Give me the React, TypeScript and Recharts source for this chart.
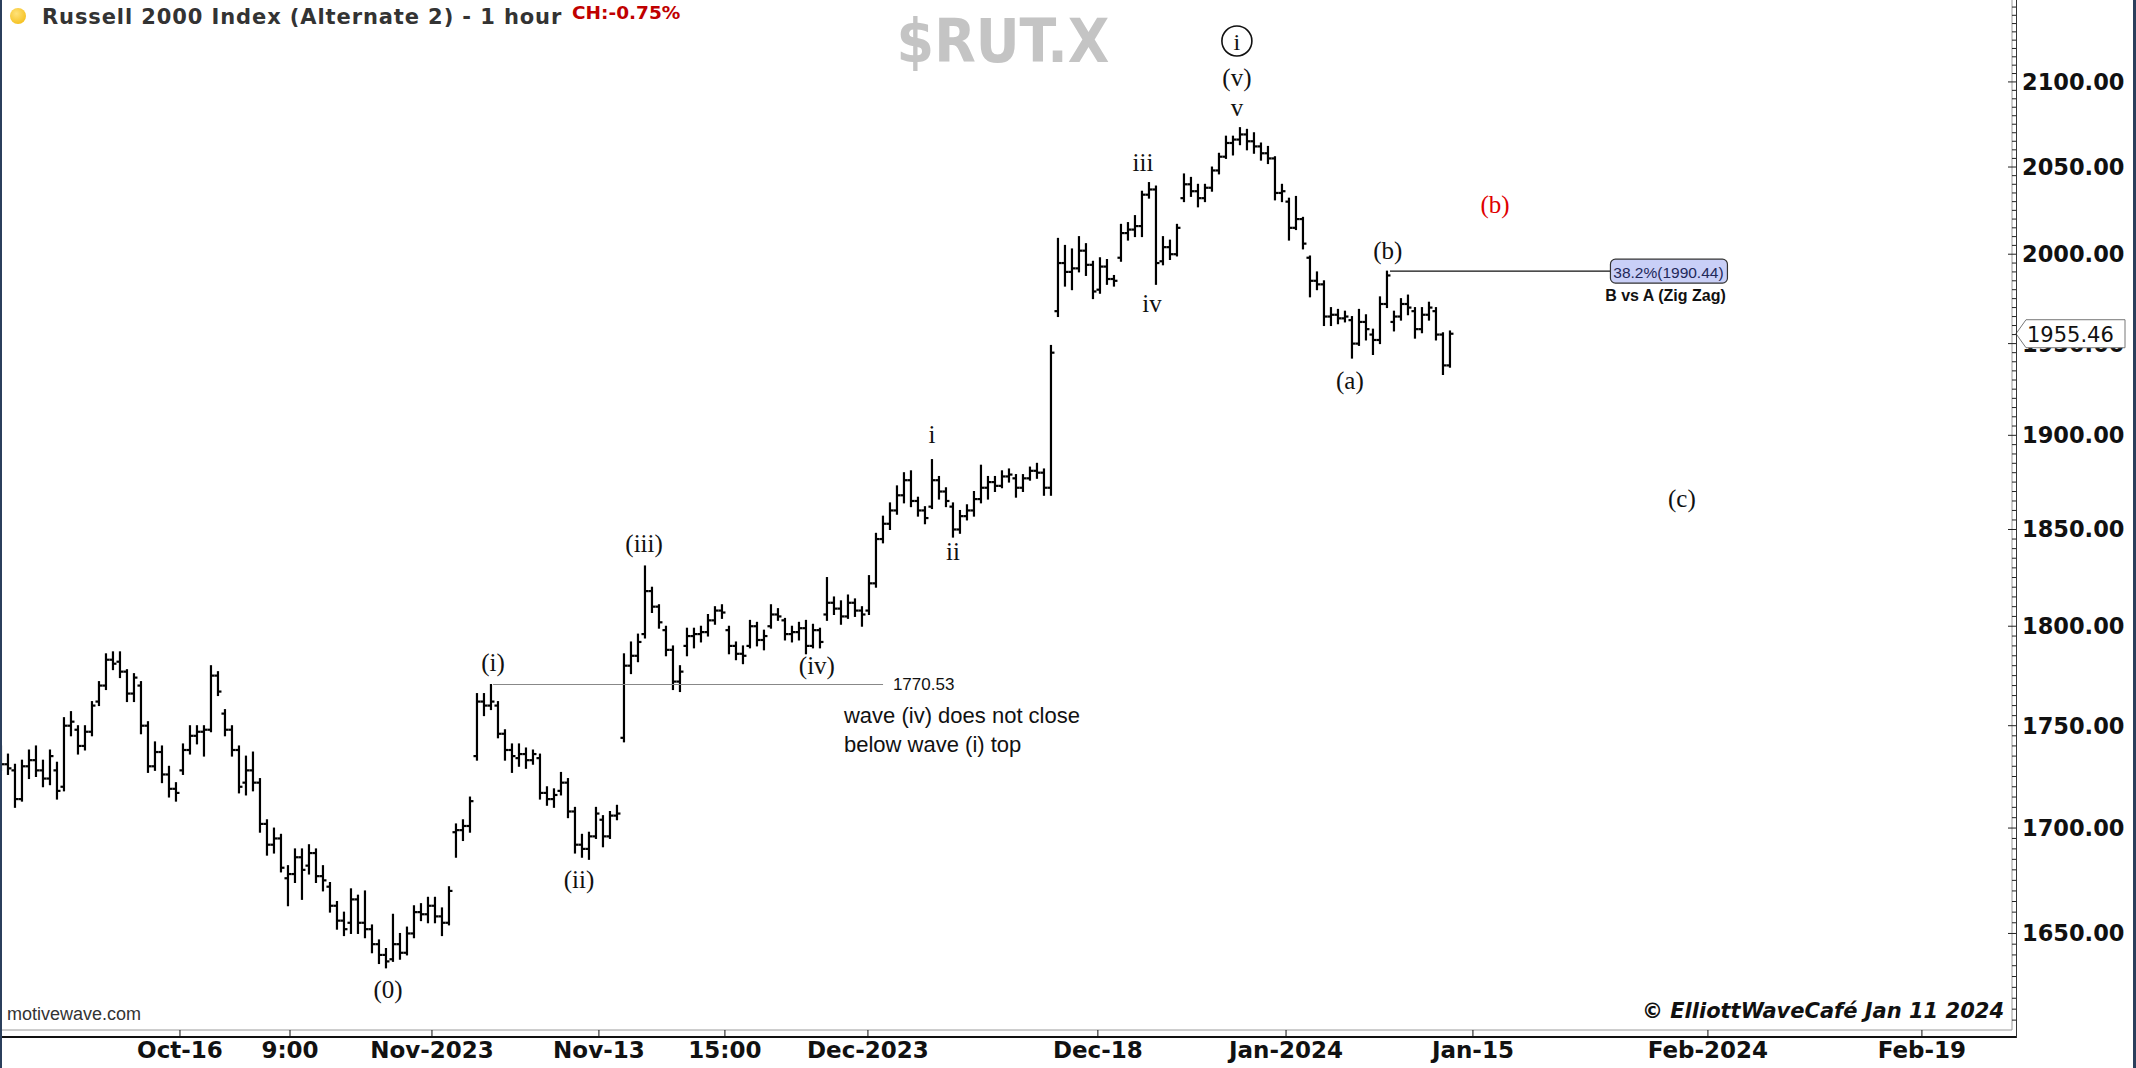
import {
  Bar,
  ComposedChart,
  ReferenceDot,
  ReferenceLine,
  XAxis,
  YAxis,
} from 'recharts'

const CHART_WIDTH = 2136
const CHART_HEIGHT = 1068
const PLOT_RIGHT = 2012

// hourly sessions squeezed to 3 bars a day: [open, high, low, close]
const bars: [number, number, number, number][] = [
  // Oct 3 (partial)
  [1737, 1740, 1728, 1731], [1731, 1736, 1726, 1729],
  // Oct 4 - Oct 13
  [1728, 1731, 1710, 1714], [1714, 1733, 1713, 1730], [1730, 1738, 1724, 1733],
  [1733, 1740, 1725, 1728], [1728, 1733, 1720, 1724], [1724, 1738, 1721, 1735],
  [1728, 1732, 1714, 1718], [1720, 1754, 1718, 1750], [1750, 1757, 1745, 1752],
  [1748, 1750, 1736, 1740], [1740, 1750, 1738, 1747], [1747, 1762, 1745, 1760],
  [1762, 1772, 1760, 1770], [1770, 1786, 1768, 1783], [1783, 1787, 1778, 1781],
  [1782, 1787, 1774, 1777], [1777, 1778, 1762, 1766], [1766, 1776, 1762, 1774],
  [1770, 1772, 1746, 1750], [1750, 1752, 1727, 1730], [1730, 1742, 1728, 1737],
  [1737, 1740, 1722, 1726], [1726, 1730, 1715, 1719], [1719, 1722, 1713, 1717],
  // Oct 16 - Oct 20
  [1728, 1741, 1726, 1738], [1738, 1750, 1736, 1745], [1745, 1750, 1741, 1747],
  [1747, 1750, 1735, 1748], [1748, 1780, 1747, 1775], [1775, 1777, 1765, 1767],
  [1756, 1758, 1745, 1748], [1748, 1750, 1735, 1738], [1738, 1740, 1717, 1720],
  [1722, 1735, 1716, 1728], [1728, 1737, 1718, 1722], [1722, 1724, 1698, 1702],
  [1702, 1704, 1687, 1692], [1692, 1700, 1688, 1695], [1695, 1697, 1679, 1681],
  // Oct 23 - Oct 27
  [1676, 1682, 1663, 1678], [1678, 1690, 1674, 1686], [1686, 1690, 1666, 1680],
  [1682, 1692, 1678, 1688], [1688, 1690, 1674, 1677], [1677, 1682, 1670, 1675],
  [1672, 1674, 1660, 1663], [1663, 1665, 1652, 1656], [1656, 1660, 1649, 1652],
  [1655, 1671, 1650, 1666], [1666, 1668, 1650, 1655], [1655, 1670, 1648, 1652],
  [1652, 1654, 1641, 1645], [1645, 1647, 1636, 1640], [1640, 1643, 1634, 1637],
  // Oct 30 - Nov 3
  [1638, 1659, 1637, 1645], [1645, 1650, 1638, 1641], [1641, 1653, 1640, 1650],
  [1650, 1663, 1648, 1660], [1660, 1664, 1656, 1659], [1659, 1667, 1655, 1663],
  [1663, 1667, 1655, 1658], [1658, 1662, 1649, 1655], [1655, 1672, 1654, 1670],
  [1698, 1702, 1686, 1699], [1699, 1704, 1694, 1701], [1701, 1715, 1698, 1713],
  [1735, 1766, 1733, 1762], [1762, 1766, 1755, 1760], [1760, 1770.53, 1758, 1762],
  // Nov 6 - Nov 10
  [1760, 1762, 1744, 1746], [1746, 1748, 1733, 1738], [1738, 1741, 1727, 1735],
  [1734, 1741, 1730, 1736], [1736, 1739, 1729, 1733], [1733, 1738, 1731, 1736],
  [1734, 1736, 1714, 1717], [1717, 1720, 1711, 1714], [1714, 1719, 1710, 1716],
  [1718, 1727, 1716, 1722], [1722, 1724, 1705, 1708], [1708, 1710, 1688, 1692],
  [1692, 1697, 1686, 1690], [1690, 1698, 1685, 1696], [1696, 1710, 1695, 1707],
  // Nov 13 - Nov 17
  [1704, 1706, 1691, 1696], [1696, 1708, 1695, 1706], [1706, 1711, 1704, 1707],
  [1744, 1786, 1742, 1780], [1780, 1792, 1776, 1785], [1785, 1796, 1782, 1792],
  [1796, 1831, 1794, 1818], [1818, 1820, 1807, 1810], [1810, 1811, 1799, 1802],
  [1798, 1800, 1785, 1788], [1788, 1790, 1768, 1772], [1772, 1780, 1767, 1777],
  [1790, 1799, 1785, 1795], [1795, 1799, 1789, 1796], [1796, 1800, 1792, 1797],
  // Nov 20 - Nov 24 (half day)
  [1797, 1806, 1795, 1803], [1803, 1810, 1801, 1808], [1808, 1811, 1804, 1807],
  [1798, 1800, 1786, 1790], [1790, 1792, 1783, 1786], [1786, 1790, 1781, 1785],
  [1790, 1803, 1789, 1800], [1800, 1802, 1790, 1793], [1793, 1798, 1788, 1795],
  [1800, 1811, 1799, 1806], [1806, 1809, 1803, 1805],
  // Nov 27 - Dec 1
  [1803, 1804, 1793, 1796], [1796, 1800, 1792, 1797], [1797, 1802, 1793, 1799],
  [1799, 1803, 1786, 1790], [1790, 1801, 1789, 1798], [1798, 1799, 1789, 1792],
  [1806, 1825, 1803, 1812], [1812, 1815, 1806, 1809], [1809, 1813, 1801, 1805],
  [1805, 1816, 1804, 1812], [1812, 1814, 1805, 1808], [1808, 1810, 1800, 1806],
  [1808, 1826, 1806, 1822], [1822, 1848, 1820, 1845], [1845, 1857, 1843, 1853],
  // Dec 4 - Dec 8
  [1853, 1864, 1850, 1860], [1860, 1873, 1858, 1868], [1868, 1880, 1864, 1876],
  [1876, 1881, 1862, 1865], [1865, 1867, 1857, 1860], [1860, 1862, 1853, 1856],
  [1862, 1887, 1861, 1876], [1876, 1878, 1866, 1870], [1870, 1872, 1862, 1865],
  [1862, 1864, 1846, 1850], [1850, 1860, 1848, 1857], [1857, 1863, 1855, 1860],
  [1860, 1870, 1857, 1866], [1866, 1884, 1864, 1872], [1872, 1878, 1866, 1875],
  // Dec 11 - Dec 15
  [1875, 1878, 1870, 1873], [1873, 1881, 1872, 1878], [1878, 1882, 1875, 1879],
  [1877, 1879, 1867, 1872], [1872, 1879, 1870, 1877], [1877, 1883, 1876, 1881],
  [1881, 1885, 1877, 1880], [1880, 1882, 1868, 1872], [1872, 1949, 1868, 1945],
  [1968, 2009, 1965, 1995], [1995, 2005, 1982, 1990], [1990, 2003, 1980, 1992],
  [1992, 2010, 1990, 2002], [2002, 2006, 1988, 1994], [1994, 1996, 1975, 1979],
  // Dec 18 - Dec 22
  [1980, 1998, 1978, 1993], [1993, 1997, 1983, 1986], [1986, 1988, 1982, 1985],
  [1998, 2017, 1996, 2012], [2012, 2018, 2008, 2014], [2014, 2022, 2010, 2016],
  [2016, 2036, 2010, 2034], [2034, 2041, 2032, 2037], [2037, 2039, 1983, 1995],
  [1996, 2010, 1994, 2004], [2004, 2008, 1997, 2000], [2000, 2017, 1999, 2015],
  [2032, 2046, 2030, 2040], [2040, 2044, 2033, 2036], [2036, 2040, 2027, 2032],
  // Dec 26 - Dec 29
  [2032, 2040, 2030, 2038], [2038, 2050, 2036, 2048], [2048, 2058, 2046, 2056],
  [2056, 2068, 2055, 2064], [2064, 2068, 2057, 2066], [2066, 2073, 2063, 2069],
  [2069, 2072, 2060, 2065], [2065, 2070, 2058, 2062], [2062, 2064, 2054, 2058],
  [2058, 2062, 2052, 2055], [2055, 2056, 2031, 2035], [2035, 2040, 2030, 2036],
  // Jan 2 - Jan 5
  [2030, 2032, 2008, 2015], [2015, 2033, 2014, 2020], [2020, 2021, 2003, 2006],
  [1998, 1999, 1976, 1985], [1985, 1990, 1980, 1983], [1983, 1985, 1960, 1965],
  [1965, 1970, 1960, 1966], [1966, 1969, 1961, 1964], [1964, 1968, 1962, 1965],
  [1963, 1965, 1942, 1950], [1950, 1969, 1949, 1962], [1962, 1966, 1952, 1958],
  // Jan 8 - Jan 11
  [1955, 1958, 1944, 1952], [1952, 1976, 1950, 1972], [1972, 1990.44, 1970, 1988],
  [1962, 1968, 1957, 1965], [1965, 1975, 1963, 1972], [1972, 1977, 1966, 1970],
  [1968, 1970, 1953, 1958], [1958, 1970, 1956, 1966], [1966, 1973, 1963, 1970],
  [1968, 1970, 1952, 1955], [1955, 1956, 1933, 1938], [1938, 1957, 1937, 1955.46],
]

const firstBarDay = 0.5
const barsPerDay = 3
const dayDomain: [number, number] = [0.43, 96.24]
const priceDomain: [number, number] = [1605.5, 2149.3]

const timeTicks = [9.0, 14.24, 21.0, 28.95, 34.95, 41.76, 52.71, 61.67, 70.57, 81.76, 91.95]
const timeLabels = [
  'Oct-16', '9:00', 'Nov-2023', 'Nov-13', '15:00', 'Dec-2023',
  'Dec-18', 'Jan-2024', 'Jan-15', 'Feb-2024', 'Feb-19',
]

const lastPrice = 1955.46
const waveOneTop = 1770.53
const retracePrice = 1990.44

const waveLabels = [
  { text: '(0)', day: 18.91, price: 1624.2 },
  { text: '(i)', day: 23.91, price: 1781.4 },
  { text: '(ii)', day: 28.0, price: 1675.6 },
  { text: '(iii)', day: 31.1, price: 1842.5 },
  { text: '(iv)', day: 39.33, price: 1779.9 },
  { text: 'i', day: 44.81, price: 1900.2 },
  { text: 'ii', day: 45.81, price: 1838.3 },
  { text: 'iii', day: 54.86, price: 2052.4 },
  { text: 'iv', day: 55.29, price: 1972.0 },
  { text: 'v', day: 59.33, price: 2084.6 },
  { text: '(v)', day: 59.33, price: 2102.4 },
  { text: '(a)', day: 64.71, price: 1930.0 },
  { text: '(b)', day: 66.52, price: 2001.9 },
  { text: '(b)', day: 71.62, price: 2028.1, color: '#e00000' },
  { text: '(c)', day: 80.52, price: 1866.1 },
]

const priceTicks: number[] = []
for (let p = 1610; p <= 2145; p += 5) priceTicks.push(p)
// the last-price tag is drawn last so it sits over the 1950 label
const axisTicks = [...priceTicks, lastPrice]

const chartData = bars.map(([open, high, low, close], i) => ({
  day: firstBarDay + i / barsPerDay,
  open,
  high,
  low,
  close,
  range: [low, high],
}))

const serif = "'Liberation Serif', 'Times New Roman', serif"
const axisFont = "'DejaVu Sans', Verdana, sans-serif"
const arial = "'Liberation Sans', Arial, sans-serif"

function OhlcBar(props: any) {
  const { x, y, width, height, payload } = props
  if (x == null || !payload) return null
  const top = Math.min(y, y + height)
  const h = Math.abs(height)
  const span = Math.log(payload.high / payload.low) || 1
  const yOf = (v: number) => top + (h * Math.log(payload.high / v)) / span
  const cx = x + width / 2
  return (
    <g stroke="#000" strokeWidth={2.2}>
      <line x1={cx} x2={cx} y1={top - 0.5} y2={top + h + 0.5} />
      <line x1={cx - 3.5} x2={cx} y1={yOf(payload.open)} y2={yOf(payload.open)} />
      <line x1={cx} x2={cx + 3.5} y1={yOf(payload.close)} y2={yOf(payload.close)} />
    </g>
  )
}

function PriceTick({ x, y, payload }: any) {
  const v = payload.value as number
  if (v === lastPrice) {
    return (
      <g>
        <polygon
          points={`${x + 4},${y} ${x + 14},${y - 14} ${x + 113},${y - 14} ${x + 113},${y + 14} ${x + 14},${y + 14}`}
          fill="#fff"
          stroke="#777"
          strokeWidth={1}
        />
        <text x={x + 15} y={y + 1} dominantBaseline="central" fontFamily={axisFont} fontSize={21} fill="#111">
          {lastPrice.toFixed(2)}
        </text>
      </g>
    )
  }
  const major = v % 50 === 0
  return (
    <g>
      <line x1={major ? x - 4 : x} x2={x + 4} y1={y} y2={y} stroke="#222" strokeWidth={1} />
      {major && (
        <text
          x={x + 10}
          y={y}
          dominantBaseline="central"
          fontFamily={axisFont}
          fontWeight="bold"
          fontSize={22.5}
          fill="#111"
        >
          {v.toFixed(2)}
        </text>
      )}
    </g>
  )
}

function TimeTick({ x, y, payload }: any) {
  const idx = timeTicks.indexOf(payload.value)
  return (
    <text
      x={x}
      y={y}
      dy={19}
      textAnchor="middle"
      fontFamily={axisFont}
      fontWeight="bold"
      fontSize={23}
      fill="#111"
    >
      {timeLabels[idx] ?? ''}
    </text>
  )
}

export default function App() {
  return (
    <div
      style={{
        position: 'fixed',
        left: 0,
        top: 0,
        width: CHART_WIDTH,
        height: CHART_HEIGHT,
        background: '#fff',
        overflow: 'hidden',
      }}
    >
      <ComposedChart
        width={CHART_WIDTH}
        height={CHART_HEIGHT}
        data={chartData}
        margin={{ top: 0, right: 0, bottom: 0, left: 0 }}
      >
        <XAxis
          dataKey="day"
          type="number"
          domain={dayDomain}
          allowDataOverflow
          ticks={timeTicks}
          interval={0}
          height={38}
          axisLine={{ stroke: '#9a9a9a' }}
          tickLine={{ stroke: '#111' }}
          tickSize={7}
          tick={<TimeTick />}
        />
        <YAxis
          orientation="right"
          type="number"
          scale="log"
          domain={priceDomain}
          allowDataOverflow
          ticks={axisTicks}
          interval={0}
          width={124}
          axisLine={{ stroke: '#9a9a9a' }}
          tickLine={false}
          tickSize={0}
          tickMargin={0}
          tick={<PriceTick />}
        />
        <Bar dataKey="range" barSize={6} shape={<OhlcBar />} isAnimationActive={false} />

        <ReferenceLine
          segment={[
            { x: 23.91, y: waveOneTop },
            { x: 42.48, y: waveOneTop },
          ]}
          stroke="#888"
          strokeWidth={1.2}
          ifOverflow="visible"
        />
        <ReferenceLine
          segment={[
            { x: 66.62, y: retracePrice },
            { x: 77.1, y: retracePrice },
          ]}
          stroke="#111"
          strokeWidth={1.2}
          ifOverflow="visible"
        />

        <ReferenceDot
          x={42.95}
          y={waveOneTop}
          r={0}
          ifOverflow="visible"
          shape={(p: any) => (
            <text x={p.cx} y={p.cy} dominantBaseline="central" fontFamily={arial} fontSize={17} fill="#111">
              {waveOneTop.toFixed(2)}
            </text>
          )}
        />
        <ReferenceDot
          x={40.62}
          y={1755.3}
          r={0}
          ifOverflow="visible"
          shape={(p: any) => (
            <text x={p.cx} y={p.cy} dominantBaseline="central" fontFamily={arial} fontSize={22} fill="#111">
              <tspan x={p.cx}>wave (iv) does not close</tspan>
              <tspan x={p.cx} dy={29}>
                below wave (i) top
              </tspan>
            </text>
          )}
        />
        <ReferenceDot
          x={79.88}
          y={retracePrice}
          r={0}
          ifOverflow="visible"
          shape={(p: any) => (
            <g>
              <rect
                x={p.cx - 58}
                y={p.cy - 12}
                width={117}
                height={24}
                rx={5}
                fill="#c9cff7"
                stroke="#333"
                strokeWidth={1.2}
              />
              <text
                x={p.cx}
                y={p.cy + 1}
                textAnchor="middle"
                dominantBaseline="central"
                fontFamily={arial}
                fontSize={15.5}
                fill="#22285a"
              >
                38.2%({retracePrice.toFixed(2)})
              </text>
              <text
                x={p.cx - 3}
                y={p.cy + 24}
                textAnchor="middle"
                dominantBaseline="central"
                fontFamily={arial}
                fontWeight="bold"
                fontSize={16}
                fill="#111"
              >
                B vs A (Zig Zag)
              </text>
            </g>
          )}
        />

        {waveLabels.map((w) => (
          <ReferenceDot
            key={w.text + w.day}
            x={w.day}
            y={w.price}
            r={0}
            ifOverflow="visible"
            shape={(p: any) => (
              <text
                x={p.cx}
                y={p.cy}
                textAnchor="middle"
                dominantBaseline="central"
                fontFamily={serif}
                fontSize={25}
                fill={w.color ?? '#111'}
              >
                {w.text}
              </text>
            )}
          />
        ))}
        <ReferenceDot
          x={59.33}
          y={2124.5}
          r={0}
          ifOverflow="visible"
          shape={(p: any) => (
            <g>
              <circle cx={p.cx} cy={p.cy} r={15} fill="none" stroke="#111" strokeWidth={1.6} />
              <text
                x={p.cx}
                y={p.cy + 1}
                textAnchor="middle"
                dominantBaseline="central"
                fontFamily={serif}
                fontSize={24}
                fill="#111"
              >
                i
              </text>
            </g>
          )}
        />
      </ComposedChart>

      {/* header */}
      <div
        style={{
          position: 'absolute',
          left: 10,
          top: 8,
          width: 16,
          height: 16,
          borderRadius: '50%',
          background: 'radial-gradient(circle at 40% 35%, #ffe27a, #f2b705)',
        }}
      />
      <div
        style={{
          position: 'absolute',
          left: 42,
          top: 5,
          fontFamily: "'DejaVu Sans', Verdana, sans-serif",
          fontWeight: 'bold',
          fontSize: 21,
          letterSpacing: 0.9,
          color: '#333',
          whiteSpace: 'nowrap',
        }}
      >
        Russell 2000 Index (Alternate 2) - 1 hour
      </div>
      <div
        style={{
          position: 'absolute',
          left: 572,
          top: 2,
          fontFamily: "'DejaVu Sans', Verdana, sans-serif",
          fontWeight: 'bold',
          fontSize: 18.5,
          color: '#c00000',
          whiteSpace: 'nowrap',
        }}
      >
        CH:-0.75%
      </div>
      <div
        style={{
          position: 'absolute',
          left: 1003,
          top: 41,
          transform: 'translate(-50%, -50%)',
          fontFamily: "'DejaVu Sans Condensed', 'DejaVu Sans', sans-serif",
          fontWeight: 'bold',
          fontSize: 60,
          color: '#c4c4c4',
          whiteSpace: 'nowrap',
        }}
      >
        $RUT.X
      </div>

      {/* footer marks */}
      <div
        style={{
          position: 'absolute',
          left: 7,
          top: 1004,
          fontFamily: arial,
          fontSize: 18,
          color: '#333',
        }}
      >
        motivewave.com
      </div>
      <div
        style={{
          position: 'absolute',
          right: 2136 - 2004,
          top: 999,
          fontFamily: "'DejaVu Sans', sans-serif",
          fontStyle: 'italic',
          fontWeight: 'bold',
          fontSize: 21,
          color: '#111',
          whiteSpace: 'nowrap',
        }}
      >
        © ElliottWaveCafé Jan 11 2024
      </div>

      {/* frame lines */}
      <div style={{ position: 'absolute', left: 0, top: 1036, width: PLOT_RIGHT + 4, height: 2, background: '#111' }} />
      <div style={{ position: 'absolute', left: PLOT_RIGHT + 4, top: 0, width: 1, height: 1038, background: '#333' }} />
      <div style={{ position: 'absolute', left: 0, top: 0, width: 2, height: CHART_HEIGHT, background: '#2b3f5c' }} />
      <div style={{ position: 'absolute', right: 0, top: 0, width: 3, height: CHART_HEIGHT, background: '#2b3f5c' }} />
    </div>
  )
}
